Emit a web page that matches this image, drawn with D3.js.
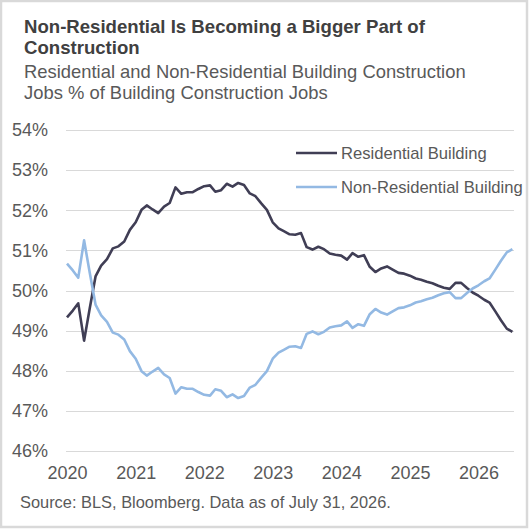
<!DOCTYPE html>
<meta charset="utf-8">
<style>
body { margin: 0; background: #fff; }
svg { display: block; font-family: "Liberation Sans", Arial, sans-serif; }
.grid line { stroke: #d9d9d9; stroke-width: 1.5; shape-rendering: crispEdges; }
.axis path, .axis line { display: none; }
.axis text { fill: #595959; font-size: 18px; }
</style>
<body>
<div id="vis-container"></div>
<script src="https://cdn.jsdelivr.net/npm/d3@7"></script>
<script>

// monthly data, Jan 2020 .. Jul 2026
var startMonth = new Date(2020, 0, 1);
var residential = [
  49.33, 49.50, 49.68, 48.75, 49.55, 50.35, 50.62, 50.78, 51.05, 51.10, 51.22, 51.51,
  51.70, 52.01, 52.12, 52.02, 51.93, 52.09, 52.18, 52.57, 52.41, 52.45, 52.45, 52.53,
  52.60, 52.62, 52.46, 52.50, 52.66, 52.59, 52.68, 52.63, 52.42, 52.35, 52.17, 52.01,
  51.70, 51.55, 51.48, 51.40, 51.39, 51.43, 51.08, 51.02, 51.09, 51.03, 50.92, 50.89,
  50.87, 50.77, 50.93, 50.84, 50.88, 50.59, 50.46, 50.55, 50.60, 50.52, 50.44, 50.42,
  50.37, 50.30, 50.27, 50.22, 50.18, 50.12, 50.07, 50.04, 50.19, 50.19, 50.06, 49.95,
  49.87, 49.77, 49.70, 49.48, 49.26, 49.05, 48.97
];
var nonResidential = [
  50.67, 50.50, 50.32, 51.25, 50.45, 49.65, 49.38, 49.22, 48.95, 48.90, 48.78, 48.49,
  48.30, 47.99, 47.88, 47.98, 48.07, 47.91, 47.82, 47.43, 47.59, 47.55, 47.55, 47.47,
  47.40, 47.38, 47.54, 47.50, 47.34, 47.41, 47.32, 47.37, 47.58, 47.65, 47.83, 47.99,
  48.30, 48.45, 48.52, 48.60, 48.61, 48.57, 48.92, 48.98, 48.91, 48.97, 49.08, 49.11,
  49.13, 49.23, 49.07, 49.16, 49.12, 49.41, 49.54, 49.45, 49.40, 49.48, 49.56, 49.58,
  49.63, 49.70, 49.73, 49.78, 49.82, 49.88, 49.93, 49.96, 49.81, 49.81, 49.94, 50.05,
  50.13, 50.23, 50.30, 50.52, 50.74, 50.95, 51.03
];
var seriesNames = ['Residential Building', 'Non-Residential Building'];
var colors = ['#403e55', '#93b9e3'];
var yTicks = [46, 47, 48, 49, 50, 51, 52, 53, 54];
var xTickYears = [2020, 2021, 2022, 2023, 2024, 2025, 2026];

var W = 529, H = 529;
var svg = d3.select("#vis-container").append("svg")
  .attr("width", W)
  .attr("height", H);

// frame
svg.append("rect")
  .attr("x", 1).attr("y", 1)
  .attr("width", W - 3).attr("height", H - 3)
  .attr("fill", "#fff")
  .attr("stroke", "#d9d9d9")
  .attr("stroke-width", 2.5);

// titles
svg.append("text")
  .attr("x", 24).attr("y", 33)
  .attr("fill", "#404040")
  .attr("font-size", "18.6px")
  .attr("font-weight", "bold")
  .text("Non-Residential Is Becoming a Bigger Part of");
svg.append("text")
  .attr("x", 24).attr("y", 54)
  .attr("fill", "#404040")
  .attr("font-size", "18.6px")
  .attr("font-weight", "bold")
  .text("Construction");
svg.append("text")
  .attr("x", 24).attr("y", 78)
  .attr("fill", "#595959")
  .attr("font-size", "18.4px")
  .text("Residential and Non-Residential Building Construction");
svg.append("text")
  .attr("x", 24).attr("y", 99)
  .attr("fill", "#595959")
  .attr("font-size", "18.4px")
  .text("Jobs % of Building Construction Jobs");

var months = residential.map(function(d, i) { return d3.timeMonth.offset(startMonth, i); });

var xScale = d3.scaleTime()
  .domain([startMonth, months[months.length - 1]])
  .range([67, 512.4]);

var yScale = d3.scaleLinear()
  .domain([46, 54])
  .range([451, 130]);

// gridlines
svg.append("g")
  .attr("class", "grid")
  .selectAll("line")
  .data(yTicks)
  .enter().append("line")
  .attr("x1", 66).attr("x2", 514)
  .attr("y1", function(d) { return Math.round(yScale(d)) + 0.5; })
  .attr("y2", function(d) { return Math.round(yScale(d)) + 0.5; });

// y axis
svg.append("g")
  .attr("class", "axis")
  .attr("transform", "translate(52,0)")
  .call(d3.axisLeft(yScale).tickValues(yTicks).tickSize(0).tickPadding(4)
    .tickFormat(function(d) { return d + "%"; }));

// x axis
svg.append("g")
  .attr("class", "axis")
  .attr("transform", "translate(0,462)")
  .call(d3.axisBottom(xScale)
    .tickValues(xTickYears.map(function(y) { return new Date(y, 0, 1); }))
    .tickSize(0).tickPadding(4)
    .tickFormat(d3.timeFormat("%Y")));

// lines
var line = d3.line()
  .x(function(d, i) { return xScale(months[i]); })
  .y(function(d) { return yScale(d); });

[residential, nonResidential].forEach(function(s, k) {
  svg.append("path")
    .datum(s)
    .attr("fill", "none")
    .attr("stroke", colors[k])
    .attr("stroke-width", 2.6)
    .attr("stroke-linejoin", "round")
    .attr("d", line);
});

// legend
var legend = svg.append("g").attr("class", "legend");
seriesNames.forEach(function(name, k) {
  var ly = 153 + k * 34;
  legend.append("line")
    .attr("x1", 296).attr("x2", 337)
    .attr("y1", ly).attr("y2", ly)
    .attr("stroke", colors[k])
    .attr("stroke-width", 2.6);
  legend.append("text")
    .attr("x", 341).attr("y", ly + 6)
    .attr("fill", "#595959")
    .attr("font-size", "16.6px")
    .text(name);
});

// source
svg.append("text")
  .attr("x", 20).attr("y", 508)
  .attr("fill", "#595959")
  .attr("font-size", "16.4px")
  .text("Source: BLS, Bloomberg. Data as of July 31, 2026.");
</script>
</body>
</html>
